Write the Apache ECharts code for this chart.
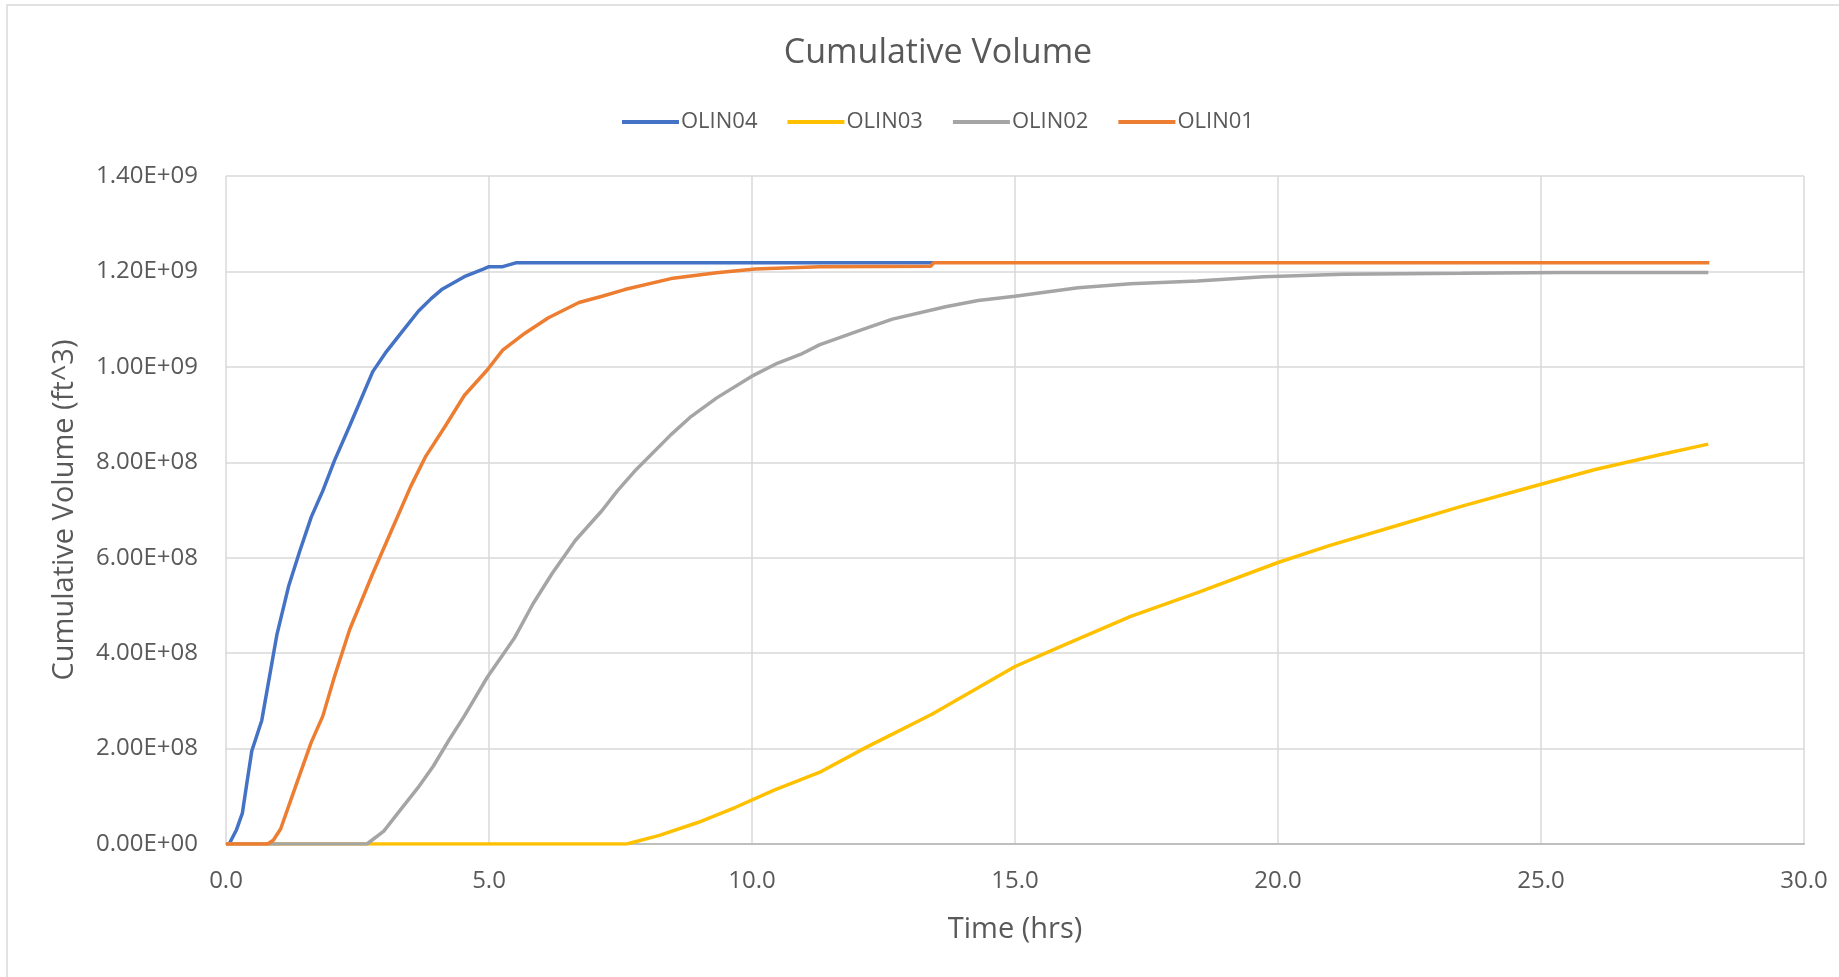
<!DOCTYPE html>
<html>
<head>
<meta charset="utf-8">
<script src="https://cdn.jsdelivr.net/npm/echarts@6/dist/echarts.min.js"></script>
<style>
html,body{margin:0;padding:0;background:#fff;}
#chart{width:1839px;height:977px;}
</style>
</head>
<body>
<div id="chart"></div>
<script>
const seriesNames = ['OLIN04', 'OLIN03', 'OLIN02', 'OLIN01'];
const seriesColors = ['#4472C4', '#FFC000', '#A5A5A5', '#ED7D31'];

const xTickLabels = ['0.0', '5.0', '10.0', '15.0', '20.0', '25.0', '30.0'];
const yTickLabels = ['0.00E+00', '2.00E+08', '4.00E+08', '6.00E+08', '8.00E+08', '1.00E+09', '1.20E+09', '1.40E+09'];

const olin04T = [0, 0.06, 0.2, 0.31, 0.4, 0.49, 0.68, 0.97, 1.19, 1.40, 1.62, 1.84, 2.06, 2.35, 2.79, 3.05, 3.30, 3.66, 3.9, 4.10, 4.53, 4.89, 5.0, 5.26, 5.51, 13.45];
const olin04V = [0, 0, 3.0e7, 6.4e7, 1.30e8, 1.95e8, 2.59e8, 4.40e8, 5.40e8, 6.13e8, 6.85e8, 7.40e8, 8.03e8, 8.76e8, 9.90e8, 1.032e9, 1.067e9, 1.117e9, 1.143e9, 1.162e9, 1.189e9, 1.205e9, 1.21e9, 1.21e9, 1.218e9, 1.218e9];

const olin03T = [0, 7.62, 8.24, 8.97, 9.69, 10.42, 11.28, 12.16, 13.42, 15.0, 15.95, 17.2, 18.47, 20.0, 20.99, 22.25, 23.5, 25.0, 26.03, 27.3, 28.18];
const olin03V = [0, 0, 1.8e7, 4.5e7, 7.7e7, 1.13e8, 1.50e8, 2.02e8, 2.72e8, 3.72e8, 4.18e8, 4.77e8, 5.27e8, 5.90e8, 6.26e8, 6.67e8, 7.08e8, 7.54e8, 7.85e8, 8.17e8, 8.38e8];

const olin02T = [0, 2.68, 3.0, 3.29, 3.65, 3.94, 4.24, 4.53, 4.97, 5.48, 5.84, 6.20, 6.64, 7.15, 7.44, 7.80, 8.46, 8.82, 9.33, 9.99, 10.49, 10.92, 11.28, 12.04, 12.67, 13.68, 14.3, 15.0, 16.2, 17.2, 18.47, 19.73, 21.24, 23.5, 25.4, 28.18];
const olin02V = [0, 0, 2.7e7, 6.8e7, 1.18e8, 1.63e8, 2.18e8, 2.68e8, 3.50e8, 4.31e8, 5.04e8, 5.67e8, 6.36e8, 6.99e8, 7.40e8, 7.85e8, 8.58e8, 8.94e8, 9.35e8, 9.80e8, 1.008e9, 1.026e9, 1.046e9, 1.076e9, 1.100e9, 1.126e9, 1.139e9, 1.148e9, 1.166e9, 1.174e9, 1.180e9, 1.189e9, 1.194e9, 1.196e9, 1.198e9, 1.198e9];

const olin01T = [0, 0.79, 0.9, 1.04, 1.33, 1.62, 1.84, 2.06, 2.35, 2.79, 3.15, 3.51, 3.80, 4.17, 4.53, 4.97, 5.26, 5.69, 6.13, 6.71, 7.15, 7.58, 8.46, 9.33, 10.06, 11.28, 13.4, 13.45, 28.2];
const olin01V = [0, 0, 8e6, 3.2e7, 1.23e8, 2.13e8, 2.68e8, 3.50e8, 4.49e8, 5.67e8, 6.58e8, 7.49e8, 8.13e8, 8.76e8, 9.40e8, 9.94e8, 1.035e9, 1.071e9, 1.103e9, 1.135e9, 1.148e9, 1.162e9, 1.185e9, 1.197e9, 1.205e9, 1.21e9, 1.211e9, 1.218e9, 1.218e9];

const seriesT = [olin04T, olin03T, olin02T, olin01T];
const seriesV = [olin04V, olin03V, olin02V, olin01V];

const FONT = 'Open Sans';
const TXT = '#595959';

const chart = echarts.init(document.getElementById('chart'));
chart.setOption({
  backgroundColor: '#ffffff',
  animation: false,
  title: {
    text: 'Cumulative Volume',
    left: 933,
    textAlign: 'center',
    top: 31,
    textStyle: { fontFamily: FONT, fontSize: 34, fontWeight: 'normal', color: TXT }
  },
  legend: {
    data: seriesNames,
    left: 617,
    top: 106,
    icon: 'rect',
    itemWidth: 57,
    itemHeight: 4,
    itemGap: 30,
    textStyle: { fontFamily: FONT, fontSize: 22, color: TXT, padding: [0, 0, 0, -3] }
  },
  graphic: [{
    type: 'rect',
    shape: { x: 7, y: 5, width: 1845, height: 985 },
    style: { fill: 'none', stroke: '#d9d9d9', lineWidth: 1.5 },
    silent: true
  }],
  grid: { left: 226, right: 35, top: 176, bottom: 133, containLabel: false },
  xAxis: {
    type: 'value',
    min: 0, max: 30, interval: 5,
    name: 'Time (hrs)',
    nameLocation: 'middle',
    nameGap: 71,
    nameTextStyle: { fontFamily: FONT, fontSize: 29, color: TXT },
    axisLine: { show: true, lineStyle: { color: '#bfbfbf', width: 2 } },
    axisTick: { show: false },
    axisLabel: {
      margin: 25, fontFamily: FONT, fontSize: 24, color: TXT,
      formatter: v => xTickLabels[Math.round(v / 5)]
    },
    splitLine: { show: true, lineStyle: { color: '#d9d9d9', width: 1.5 } }
  },
  yAxis: {
    type: 'value',
    min: 0, max: 1.4e9, interval: 2e8,
    name: 'Cumulative Volume (ft^3)',
    nameLocation: 'middle',
    nameGap: 147,
    nameTextStyle: { fontFamily: FONT, fontSize: 29, color: TXT },
    axisLine: { show: false },
    axisTick: { show: false },
    axisLabel: {
      margin: 28, fontFamily: FONT, fontSize: 24, color: TXT,
      formatter: v => yTickLabels[Math.round(v / 2e8)]
    },
    splitLine: { show: true, lineStyle: { color: '#d9d9d9', width: 1.5 } }
  },
  series: seriesNames.map((name, i) => ({
    name: name,
    type: 'line',
    symbol: 'none',
    smooth: false,
    color: seriesColors[i],
    lineStyle: { width: 3.5, color: seriesColors[i] },
    data: seriesT[i].map((t, k) => [t, seriesV[i][k]])
  }))
});
</script>
</body>
</html>
